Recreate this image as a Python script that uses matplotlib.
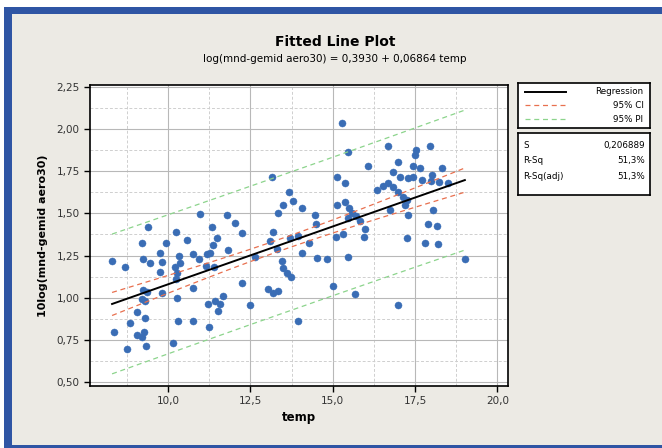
import numpy as np
import matplotlib
matplotlib.use("Agg")
import matplotlib.pyplot as plt
from matplotlib.patches import Rectangle
from matplotlib.ticker import FixedLocator, MultipleLocator
from matplotlib.lines import Line2D

# ---------------- data ----------------
temp = [8.30, 8.70, 8.36, 8.76, 8.85, 9.06, 9.21, 9.39, 9.24, 9.45, 9.24, 9.36, 9.21, 9.30,
        9.30, 9.06, 9.21, 9.27, 9.33, 9.76, 9.82, 9.76, 9.94, 9.82, 10.15, 10.24, 10.33, 10.36,
        10.21, 10.27, 10.24, 10.27, 10.30, 10.58, 10.76, 10.76, 10.76, 10.94, 11.15, 11.40,
        10.97, 11.33, 11.49, 11.37, 11.27, 11.18, 11.79, 12.03, 12.25, 11.82, 11.67, 11.43,
        11.21, 11.58, 11.52, 11.24, 12.25, 12.49, 12.64, 13.03, 13.19, 13.34, 13.19, 13.09,
        13.31, 13.46, 13.49, 13.61, 13.73, 13.70, 13.94, 14.07, 13.94, 14.28, 13.16, 13.67,
        13.79, 13.49, 13.34, 14.07, 14.46, 14.49, 15.28, 15.46, 15.13, 15.37, 15.13, 15.37,
        15.49, 15.58, 15.46, 15.70, 15.82, 15.98, 15.95, 15.31, 15.10, 14.52, 14.82, 15.46,
        15.01, 15.67, 16.07, 16.34, 16.52, 16.67, 16.67, 16.98, 16.83, 17.04, 17.28, 16.83,
        16.98, 17.13, 17.25, 17.19, 16.74, 17.28, 17.25, 16.98, 17.52, 17.49, 17.43, 17.65,
        17.43, 17.71, 17.95, 18.01, 17.98, 18.22, 18.49, 18.31, 18.04, 17.89, 18.16, 17.80,
        18.19, 19.01]
logaero = [1.220, 1.185, 0.798, 0.696, 0.851, 0.917, 1.327, 1.417, 1.232, 1.208, 1.048, 1.036,
           0.994, 0.982, 0.881, 0.780, 0.768, 0.798, 0.714, 1.268, 1.214, 1.155, 1.327, 1.030,
           0.732, 1.387, 1.250, 1.208, 1.185, 1.149, 1.113, 1.000, 0.863, 1.345, 0.863, 1.060,
           1.262, 1.232, 1.190, 1.185, 1.494, 1.417, 1.357, 1.315, 1.268, 1.262, 1.488, 1.446,
           1.381, 1.280, 1.012, 0.982, 0.964, 0.964, 0.923, 0.827, 1.089, 0.958, 1.244, 1.054,
           1.030, 1.042, 1.387, 1.339, 1.286, 1.220, 1.179, 1.149, 1.125, 1.357, 1.369, 1.268,
           0.863, 1.327, 1.714, 1.625, 1.571, 1.548, 1.500, 1.530, 1.488, 1.435, 2.036, 1.863,
           1.714, 1.679, 1.548, 1.565, 1.530, 1.500, 1.470, 1.482, 1.458, 1.405, 1.363, 1.375,
           1.363, 1.238, 1.232, 1.244, 1.071, 1.024, 1.780, 1.637, 1.661, 1.679, 1.899, 1.804,
           1.744, 1.714, 1.708, 1.655, 1.625, 1.595, 1.577, 1.548, 1.518, 1.488, 1.357, 0.958,
           1.875, 1.845, 1.780, 1.768, 1.714, 1.696, 1.899, 1.726, 1.690, 1.685, 1.679, 1.768,
           1.518, 1.435, 1.423, 1.327, 1.321, 1.232]

intercept = 0.3930
slope = 0.06864
S_value = 0.206889
t_crit = 1.977

xticks = [10.0, 12.5, 15.0, 17.5, 20.0]
xtick_labels = ["10,0", "12,5", "15,0", "17,5", "20,0"]
yticks = [0.50, 0.75, 1.00, 1.25, 1.50, 1.75, 2.00, 2.25]
ytick_labels = ["0,50", "0,75", "1,00", "1,25", "1,50", "1,75", "2,00", "2,25"]
legend_labels = ["Regression", "95% CI", "95% PI"]
stat_labels = ["S", "R-Sq", "R-Sq(adj)"]
stat_values = ["0,206889", "51,3%", "51,3%"]

# ---------------- figure ----------------
W, H = 662, 448
fig = plt.figure(figsize=(W / 100, H / 100), dpi=100)
BG = "#ECEAE4"
fig.patch.set_facecolor(BG)
BLUE = "#2F55A4"
# blue frame
fig.patches.append(Rectangle((0, 0), 1, 1, transform=fig.transFigure, facecolor="white",
                             edgecolor="none", zorder=-10))
fig.patches.append(Rectangle((4 / W, 0), 1, 1 - 7 / H - 0 / H, transform=fig.transFigure,
                             facecolor=BLUE, edgecolor="none", zorder=-9))
fig.patches.append(Rectangle((12 / W, 3 / H), 1, 1 - 14 / H - 3 / H, transform=fig.transFigure,
                             facecolor=BG, edgecolor="none", zorder=-8))

font = "DejaVu Sans"
plt.rcParams["font.family"] = font

ax = fig.add_axes([90 / W, 1 - 386 / H, (508 - 90) / W, (386 - 85) / H])
ax.set_facecolor("white")

x = np.array(temp)
y = np.array(logaero)
n = len(x)
xbar = x.mean()
sxx = ((x - xbar) ** 2).sum()
xs = np.linspace(x.min(), x.max(), 200)
yfit = intercept + slope * xs
ci = t_crit * S_value * np.sqrt(1 / n + (xs - xbar) ** 2 / sxx)
pi = t_crit * S_value * np.sqrt(1 + 1 / n + (xs - xbar) ** 2 / sxx)

ax.scatter(x, y, s=26, color="#3A6DB5", edgecolors="#3A6DB5", linewidths=0.3, zorder=3)
ax.plot(xs, yfit, color="black", lw=1.4, zorder=4)
ax.plot(xs, yfit + ci, color="#E8704F", lw=0.9, ls=(0, (4, 3)), zorder=4)
ax.plot(xs, yfit - ci, color="#E8704F", lw=0.9, ls=(0, (4, 3)), zorder=4)
ax.plot(xs, yfit + pi, color="#8CD48C", lw=0.9, ls=(0, (4, 3)), zorder=4)
ax.plot(xs, yfit - pi, color="#8CD48C", lw=0.9, ls=(0, (4, 3)), zorder=4)

ax.set_xlim(7.63, 20.32)
ax.set_ylim(0.476, 2.262)
ax.xaxis.set_major_locator(FixedLocator(xticks))
ax.yaxis.set_major_locator(FixedLocator(yticks))
ax.set_xticklabels(xtick_labels)
ax.set_yticklabels(ytick_labels)
ax.xaxis.set_minor_locator(MultipleLocator(1.25))
ax.yaxis.set_minor_locator(MultipleLocator(0.125))
ax.grid(which="major", color="#B8B8B8", lw=0.8, ls="-", zorder=0)
ax.grid(which="minor", color="#CFCFCF", lw=0.7, ls=(0, (3, 2)), zorder=0)
ax.set_axisbelow(True)
ax.tick_params(which="major", direction="out", length=4, width=1, labelsize=7.5,
               colors="black", labelcolor="#333333")
ax.tick_params(which="minor", length=0)
for s in ax.spines.values():
    s.set_linewidth(1.2)
    s.set_color("black")

ax.set_xlabel("temp", fontsize=8.5, fontweight="bold", labelpad=3)
ax.set_ylabel("10log(mnd-gemid aero30)", fontsize=8, fontweight="bold", labelpad=6)

fig.text(335 / W, 1 - 42 / H, "Fitted Line Plot", ha="center", va="center",
         fontsize=10, fontweight="bold")
fig.text(335 / W, 1 - 59 / H, "log(mnd-gemid aero30) = 0,3930 + 0,06864 temp",
         ha="center", va="center", fontsize=7.5)

# legend box
lax = fig.add_axes([518 / W, 1 - 128 / H, (650 - 518) / W, (128 - 83) / H])
lax.set_xlim(0, 1)
lax.set_ylim(0, 1)
lax.set_xticks([])
lax.set_yticks([])
lax.set_facecolor("white")
for s in lax.spines.values():
    s.set_linewidth(1.2)
ys_leg = [0.80, 0.50, 0.20]
styles = [("black", "-", 1.4), ("#E8704F", (0, (4, 3)), 0.9), ("#8CD48C", (0, (4, 3)), 0.9)]
for yy, lab, (c, ls, lw) in zip(ys_leg, legend_labels, styles):
    lax.add_line(Line2D([0.05, 0.36], [yy, yy], color=c, ls=ls, lw=lw))
    lax.text(0.95, yy, lab, ha="right", va="center", fontsize=6.3)

# stats box
sax = fig.add_axes([518 / W, 1 - 195 / H, (650 - 518) / W, (195 - 133) / H])
sax.set_xlim(0, 1)
sax.set_ylim(0, 1)
sax.set_xticks([])
sax.set_yticks([])
sax.set_facecolor("white")
for s in sax.spines.values():
    s.set_linewidth(1.2)
for yy, lab, val in zip([0.80, 0.55, 0.30], stat_labels, stat_values):
    sax.text(0.04, yy, lab, ha="left", va="center", fontsize=6.3)
    sax.text(0.96, yy, val, ha="right", va="center", fontsize=6.3)

fig.savefig("out.png", dpi=100, facecolor=fig.get_facecolor())
